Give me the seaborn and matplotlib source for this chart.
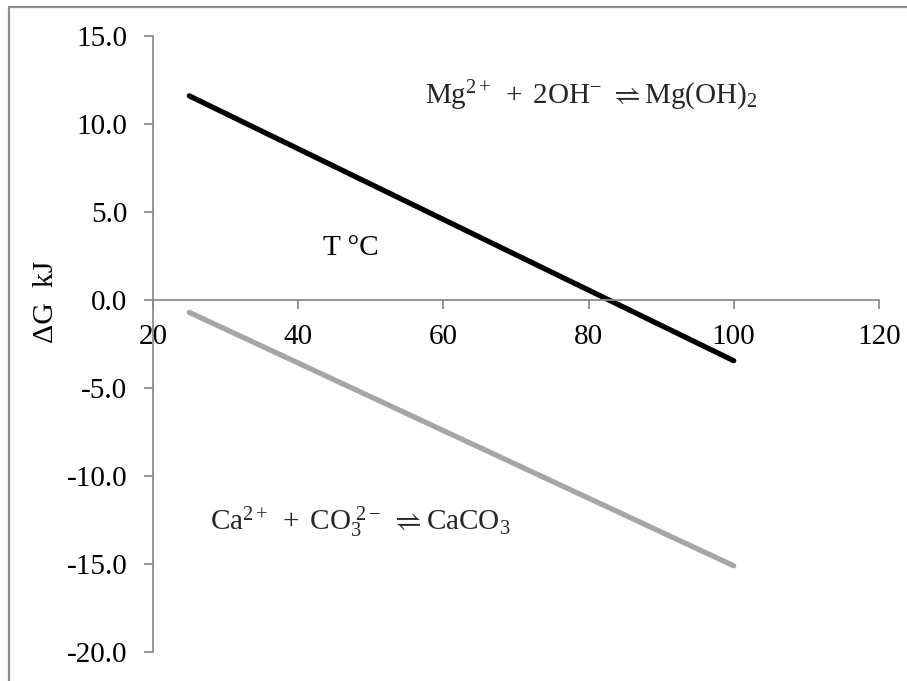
import matplotlib
matplotlib.use("Agg")
import matplotlib.pyplot as plt
import seaborn as sns
import pandas as pd
from matplotlib.lines import Line2D

# Free energy of precipitation versus temperature
temperature = [25, 100]
dg_mg_oh2 = [11.6, -3.45]
dg_caco3 = [-0.7, -15.1]

x_ticks = [20, 40, 60, 80, 100, 120]
y_ticks = [-20, -15, -10, -5, 0, 5, 10, 15]

sns.set_theme(style="white")
plt.rcParams["font.family"] = ["Liberation Serif", "DejaVu Serif"]
plt.rcParams["mathtext.fontset"] = "custom"
plt.rcParams["mathtext.rm"] = "Liberation Serif"
plt.rcParams["mathtext.it"] = "Liberation Serif:italic"
plt.rcParams["mathtext.bf"] = "Liberation Serif:bold"
plt.rcParams["mathtext.fallback"] = "stix"

FS = 21

df = pd.DataFrame({
    "T": temperature * 2,
    "dG": dg_mg_oh2 + dg_caco3,
    "reaction": ["Mg(OH)2"] * len(temperature) + ["CaCO3"] * len(temperature),
})

fig = plt.figure(figsize=(9.07, 6.81), dpi=100)
ax = fig.add_axes([0.1687, 0.0426, 0.969 - 0.1687, 0.9471 - 0.0426])

sns.lineplot(data=df, x="T", y="dG", hue="reaction",
             palette={"Mg(OH)2": "#000000", "CaCO3": "#a6a6a6"},
             linewidth=3.8, legend=False, ax=ax, solid_capstyle="round")

ax.set_xlim(20, 120)
ax.set_ylim(-20, 15)
ax.set_xticks(x_ticks)
ax.set_yticks(y_ticks)
ax.set_xticklabels([str(v) for v in x_ticks])
ax.set_yticklabels([f"{v:.1f}" for v in y_ticks])

axis_color = "#8c8c8c"
for side in ["top", "right"]:
    ax.spines[side].set_visible(False)
ax.spines["bottom"].set_position(("data", 0))
ax.spines["left"].set_color(axis_color)
ax.spines["bottom"].set_color(axis_color)
ax.spines["left"].set_linewidth(1.3)
ax.spines["bottom"].set_linewidth(1.3)

ax.tick_params(axis="both", which="major", direction="out", length=6.5,
               width=1.3, color=axis_color, labelsize=FS, labelcolor="black",
               left=True, bottom=True)
ax.tick_params(axis="x", pad=11)
ax.tick_params(axis="y", pad=12)
ax.set_xlabel("")
ax.set_ylabel("")

# Axis titles placed inside the figure
fig.text(46 / 907, 1 - 302 / 681, "ΔG  kJ", rotation=90, ha="center", va="center",
         fontsize=FS + 0.5, color="black")
ax.text(351 / 907, 1 - 248 / 681, "T °C", transform=fig.transFigure,
        ha="center", va="center", fontsize=FS, color="black")

ax.text(425 / 907, 1 - 96 / 681,
        r"$\mathrm{Mg}^{2+}\ +\ 2\mathrm{OH}^{-}\ \rightleftharpoons\mathrm{Mg(OH)}_{2}$",
        transform=fig.transFigure, ha="left", va="center", fontsize=FS)
ax.text(210 / 907, 1 - 522 / 681,
        r"$\mathrm{Ca}^{2+}\ +\ \mathrm{CO}_{3}^{\ 2-}\ \rightleftharpoons\mathrm{CaCO}_{3}$",
        transform=fig.transFigure, ha="left", va="center", fontsize=FS)

# Chart area frame
fig.add_artist(Line2D([8.5 / 907, 1.01], [1 - 7 / 681] * 2, transform=fig.transFigure,
                      color="#8c8c8c", linewidth=1.6))
fig.add_artist(Line2D([8.5 / 907] * 2, [-0.01, 1 - 7 / 681], transform=fig.transFigure,
                      color="#8c8c8c", linewidth=1.6))

fig.savefig("out.png", dpi=100, facecolor="white")
